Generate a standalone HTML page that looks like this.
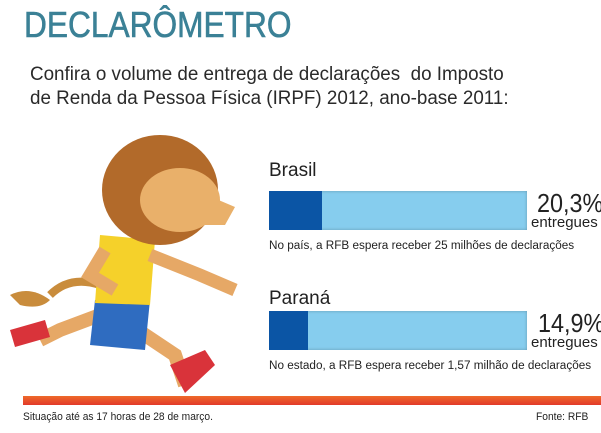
<!DOCTYPE html>
<html><head><meta charset="utf-8"><style>
body{margin:0;width:601px;height:433px;background:#fff;position:relative;overflow:hidden;font-family:"Liberation Sans",sans-serif;color:#222}
.a{position:absolute;white-space:nowrap}
.bar{position:absolute;left:269px;width:258px;height:39px;background:#86cdee;box-shadow:inset 0 0 3px rgba(0,0,0,.25)}
.bar i{position:absolute;left:0;top:0;bottom:0;background:#0b55a5}
</style></head><body>
<div class="a" style="left:24px;top:4px;font-size:36px;color:#3b8196;transform:scaleX(.88);transform-origin:left;-webkit-text-stroke:0.6px #3b8196">DECLARÔMETRO</div>
<div class="a" style="left:30px;top:63px;font-size:19px;line-height:24px;color:#2a2a2a;transform:scaleX(.99);transform-origin:left">Confira o volume de entrega de declarações&nbsp; do Imposto<br>de Renda da Pessoa Física (IRPF) 2012, ano-base 2011:</div>

<svg class="a" style="left:0;top:125px" width="260" height="280">
<path d="M10 170 Q30 160 50 175 Q40 185 20 180Z" fill="#c98c3c"/>
<path d="M50 170 Q70 150 100 160" stroke="#c98c3c" stroke-width="8" fill="none"/>
<path d="M100 190 L60 205 L40 215" stroke="#e6a866" stroke-width="14" fill="none"/>
<path d="M10 205 L45 195 L50 212 L15 222Z" fill="#d9333a"/>
<path d="M130 200 L175 230 L185 260" stroke="#e6a866" stroke-width="14" fill="none"/>
<path d="M170 240 L205 225 L215 240 L185 268Z" fill="#d9333a"/>
<path d="M95 175 L150 175 L145 225 L90 220Z" fill="#2f6cc0"/>
<path d="M100 110 L155 115 L150 180 L95 178Z" fill="#f5d12a"/>
<path d="M150 130 L200 150 L235 165" stroke="#e6a866" stroke-width="13" fill="none"/>
<path d="M105 125 L90 150 L115 165" stroke="#e6a866" stroke-width="13" fill="none"/>
<ellipse cx="160" cy="65" rx="58" ry="55" fill="#b26a2a"/>
<ellipse cx="180" cy="75" rx="40" ry="32" fill="#e9b06a"/>
<path d="M195 65 L235 82 L225 100 L190 100Z" fill="#e9b06a"/>
</svg>

<div class="a" style="left:269px;top:160px;font-size:19px">Brasil</div>
<div class="bar" style="top:191px"><i style="width:53px"></i></div>
<div class="a" style="left:537px;top:188px;font-size:26px;transform:scaleX(.9);transform-origin:left">20,3%</div>
<div class="a" style="left:531px;top:214px;font-size:15px">entregues</div>
<div class="a" style="left:269px;top:240px;font-size:11.5px;transform:scaleX(1.02);transform-origin:left">No país, a RFB espera receber 25 milhões de declarações</div>

<div class="a" style="left:269px;top:288px;font-size:19px">Paraná</div>
<div class="bar" style="top:311px"><i style="width:39px"></i></div>
<div class="a" style="left:538px;top:308px;font-size:26px;transform:scaleX(.9);transform-origin:left">14,9%</div>
<div class="a" style="left:531px;top:334px;font-size:15px">entregues</div>
<div class="a" style="left:269px;top:360px;font-size:11.5px;transform:scaleX(1.02);transform-origin:left">No estado, a RFB espera receber 1,57 milhão de declarações</div>

<div class="a" style="left:23px;top:396px;width:578px;height:9px;background:linear-gradient(#ee6a2a,#e23a2a)"></div>
<div class="a" style="left:23px;top:411px;font-size:11px;transform:scaleX(.93);transform-origin:left">Situação até as 17 horas de 28 de março.</div>
<div class="a" style="left:536px;top:411px;font-size:11px;transform:scaleX(.93);transform-origin:left">Fonte: RFB</div>
</body></html>
